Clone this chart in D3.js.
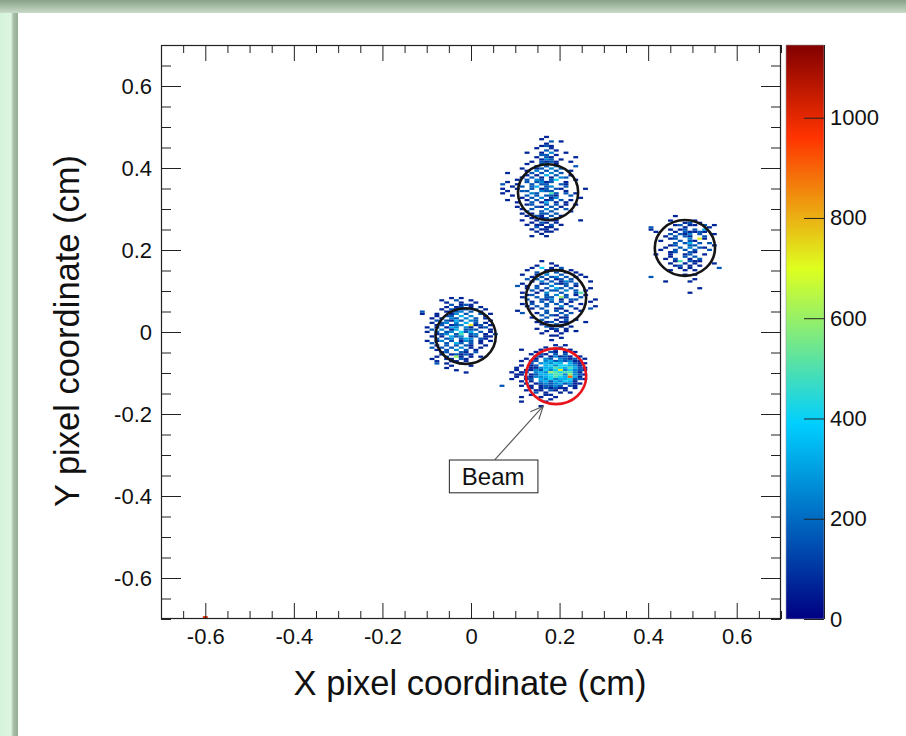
<!DOCTYPE html>
<html>
<head>
<meta charset="utf-8">
<script src="https://cdn.jsdelivr.net/npm/d3@7"></script>
<style>
  html, body { margin: 0; padding: 0; background: #fff; }
  svg { display: block; }
  text { font-family: "Liberation Sans", Arial, Helvetica, sans-serif; fill: #111; }
</style>
</head>
<body>
<svg id="chart" width="906" height="736"></svg>
<script>
// ---- axis values -------------------------------------------------------
const xDomain = [-0.7, 0.7];
const yDomain = [-0.7, 0.7];
const xTicks = [-0.6, -0.4, -0.2, 0, 0.2, 0.4, 0.6];
const yTicks = [-0.6, -0.4, -0.2, 0, 0.2, 0.4, 0.6];
const zTicks = [0, 200, 400, 600, 800, 1000];
const zMax = 1145;

// colour palette: stop fractions and colours
const paletteStops = [0.00, 0.34, 0.61, 0.84, 1.00];
const paletteColors = ["#000082", "#00cfff", "#deff1f", "#ff3300", "#820000"];

// histogram bin size (cm) and hit counts per symbol used in the spot maps
const binW = 0.011;
const binH = 0.0055;
const levelCounts = { "1": 70, "2": 160, "3": 250, "4": 330, "5": 410, "6": 500, "7": 600, "8": 720, "9": 900, "a": 1000 };

// spot maps: rows run from high y to low y, columns from low x to high x
const topSpot = [
  ".........1",
  "........1",
  "..........2.1",
  ".........1",
  "........121",
  ".......1..1",
  ".........2.1",
  ".....1..1.3..1",
  "........22.1",
  ".......1.21....1",
  "........132.1",
  "......1.2121..1",
  ".....1..24.1",
  ".......2.2.3...2",
  "....1..12.3.2",
  ".....1.3.2.2..1",
  ".1....2.2.3.2",
  ".....1.1.4.2..1",
  "....1.2.1.1.32",
  "...1.2.32.25...1",
  ".1...2.2312..1",
  "2..1..2.22..21",
  "..1.2.24.23..2",
  "1..1..2.12.21....1",
  ".1..22..322..1",
  "1.....32..62.2.1",
  "..1..2.2.221..2",
  "....1.2.3.13....1",
  ".1...1.2.12.2.1",
  "...1..2.14.1.1",
  ".....12..2.2.1.1",
  "...1...21.2.1",
  "....1.2..3.2.2",
  ".....2..2.2...1",
  "....1.1.22.2",
  ".....1.21.2.1",
  "......1.12.2",
  "....1..1..11....1",
  "......1.21.1",
  ".....1.11.2.1",
  ".......2.11",
  "......1.11.1",
  ".......1.11",
  "........1",
  "......1..1"
];
const rightSpot = [
  ".....1",
  "",
  "....1....1",
  ".......12.1",
  ".....12.11.2.1",
  "2......1....1",
  "1...1.12.2.4",
  ".1...1.21121",
  "....2.213.2..1",
  "...1.2.21..2",
  "....12..3.81",
  "..1...2.21",
  ".....2.24.2.2",
  "....12..22...1",
  "...1..2.3.21",
  "..1..2.2.2..2",
  "....12..21",
  ".1..1..12..1",
  "....1..2.2",
  "...1.2..1.2",
  ".....16.211",
  "....1..1.1...1",
  ".....12.1.1",
  "......1.1.....2",
  "....1..1.1",
  "",
  ".......1.1",
  "2",
  ".........1",
  "...1....1",
  "",
  "",
  "..........1",
  "",
  "........1"
];
const middleSpot = [
  ".....1",
  ".......1",
  "....1...1",
  "...1.5.1.2",
  "..1...1211.1",
  "....2.2.2.1.1",
  ".1..1.3..2...1",
  "...1.2.23.2.1.1",
  "..2.2.1.12.2",
  "...1.3.2.132...1",
  ".1...12.212.2",
  "2.1.2..3..2.1",
  "..1.2.2.42.2...1",
  "...2.1.22.3.2.1",
  ".1..1.3..2..26",
  "..12..2.3.2.1.1",
  ".1..2.22.72..2",
  "..2..213.1.22...1",
  "...1.2.2.2.1...1",
  ".1.2..2.2.1..1",
  "..1.2.2..3.2....1",
  "...1.2..11..1..2",
  "1.....2.2.1..1",
  ".2..1.2..2.2",
  ".....2.21.2",
  "...1..2..11",
  ".....2..1.2.1",
  "....1.12.11...1",
  ".....1..2.2",
  "......21.1.1",
  "....1..12.1",
  "......1.1.1.1",
  ".....1...1",
  ".......11",
  ".........1",
  ".......1"
];
const leftSpot = [
  "......1.1",
  "....1..2..1",
  ".....1..1..1",
  "......2.121",
  ".....1.12.1.1",
  "....1.2112.2.1",
  "2....1123.2.1",
  "1..1..13.2..2.1",
  "...1.22.4.3..1",
  "..1.1.32.3.2.1",
  "...2.2142.32..1",
  "..1.23.3.4.2.1",
  "...12.123.812.1",
  ".1.1.143.31.12",
  "..2.3.14.222..1",
  ".1.2.23.524.2.1",
  "...123.26.23.1.2",
  "..1.1.423.12.11",
  "...2.23.243.21",
  ".1.13.2.132.1.1",
  "..2..2.42.2.1",
  "...1.2.2.21..1",
  "..2.2.2.3.1.1",
  "...1.2.3.2.1",
  "....12..21.2",
  "....1.12121",
  "...1.2.71.1.1",
  "..1..11.21",
  "...1..11.1",
  "...2.1..1",
  "......1...1",
  ".....1",
  ".......1",
  ".........1"
];
const beamSpot = [
  "...........1.1",
  ".........1..2",
  "....1...1..1..1",
  ".......1..21.1.1",
  "......1.21.2.2",
  ".......21.13121.1",
  ".....1.1.32.3212.1",
  "....1.12.34232311",
  "......2.34354.4211",
  "....1.12.45355431",
  "...1..113446546421",
  "...1.1132535835321",
  "..1.12.3437656631",
  "...11.124456637321",
  "...1.213345654941",
  "..1..12.4353445221",
  "....1.1.34243541",
  ".....1.1232342311",
  "2...1.1.12232.21",
  "......1.121211.1",
  ".....1.11.21.1",
  ".......2.1..1.1",
  "......1..11",
  "....1...1..1",
  "..........1",
  "....1....1",
  "",
  "........1"
];
// isolated hot bin at the lower edge
const edgeSpot = ["a"];

// left edge x and upper edge y of each map (cm)
const spotOrigins = [
  { rows: topSpot,    x0: 0.0660,  yTop: 0.4785 },
  { rows: rightSpot,  x0: 0.4010,  yTop: 0.2855 },
  { rows: middleSpot, x0: 0.0995,  yTop: 0.1755 },
  { rows: leftSpot,   x0: -0.1155, yTop: 0.0855 },
  { rows: beamSpot,   x0: 0.0645,  yTop: -0.0295 },
  { rows: edgeSpot,   x0: -0.6055, yTop: -0.6930 }
];

// fitted rings (cm)
const ringCenters = [
  { x: 0.174, y: 0.341, beam: false },
  { x: 0.483, y: 0.205, beam: false },
  { x: 0.192, y: 0.083, beam: false },
  { x: -0.012, y: -0.010, beam: false },
  { x: 0.192, y: -0.108, beam: true }
];
const ringRadius = 0.068;

// annotation (cm)
const beamLabel = { text: "Beam", x0: -0.050, x1: 0.150, y0: -0.311, y1: -0.391 };
const beamArrow = { from: [0.054, -0.311], to: [0.163, -0.181] };

// ---- layout ------------------------------------------------------------
const W = 906, H = 736;
const frame = { left: 161, right: 781, top: 45, bottom: 619 };
const pal = { left: 786, right: 824 };

const svg = d3.select("#chart");

// page backdrop with the green edge
const defs = svg.append("defs");
const gTop = defs.append("linearGradient").attr("id", "edgeTop").attr("x1", 0).attr("y1", 0).attr("x2", 0).attr("y2", 1);
gTop.append("stop").attr("offset", 0).attr("stop-color", "#87a087");
gTop.append("stop").attr("offset", 1).attr("stop-color", "#c9dbc9");
const gLeft = defs.append("linearGradient").attr("id", "edgeLeft").attr("x1", 0).attr("y1", 0).attr("x2", 1).attr("y2", 0);
gLeft.append("stop").attr("offset", 0).attr("stop-color", "#d4f3da");
gLeft.append("stop").attr("offset", 0.6).attr("stop-color", "#ddf5e1");
gLeft.append("stop").attr("offset", 0.75).attr("stop-color", "#a9bfa9");
gLeft.append("stop").attr("offset", 1).attr("stop-color", "#93aa93");

svg.append("rect").attr("width", W).attr("height", H).attr("fill", "#fff");
svg.append("rect").attr("x", 0).attr("y", 0).attr("width", 18).attr("height", H).attr("fill", "url(#edgeLeft)");
svg.append("rect").attr("x", 0).attr("y", 0).attr("width", W).attr("height", 13).attr("fill", "url(#edgeTop)");

// ---- scales ------------------------------------------------------------
const x = d3.scaleLinear().domain(xDomain).range([frame.left, frame.right]);
const y = d3.scaleLinear().domain(yDomain).range([frame.bottom, frame.top]);
const z = d3.scaleLinear()
  .domain(paletteStops.map(s => s * zMax))
  .range(paletteColors)
  .interpolate(d3.interpolateRgb)
  .clamp(true);
const zAxisScale = d3.scaleLinear().domain([0, zMax]).range([frame.bottom, frame.top]);

// ---- histogram cells ---------------------------------------------------
const cells = [];
spotOrigins.forEach(s => {
  s.rows.forEach((row, r) => {
    [...row].forEach((ch, c) => {
      if (!(ch in levelCounts)) return;
      cells.push({ x: s.x0 + c * binW, y: s.yTop - (r + 1) * binH, v: levelCounts[ch] });
    });
  });
});

svg.append("g").attr("class", "cells")
  .selectAll("rect").data(cells).join("rect")
  .attr("x", d => x(d.x))
  .attr("y", d => y(d.y + binH))
  .attr("width", d => x(d.x + binW) - x(d.x))
  .attr("height", d => y(d.y) - y(d.y + binH))
  .attr("fill", d => z(d.v));

// ---- rings -------------------------------------------------------------
svg.append("g").attr("class", "rings")
  .selectAll("ellipse").data(ringCenters).join("ellipse")
  .attr("cx", d => x(d.x))
  .attr("cy", d => y(d.y))
  .attr("rx", x(ringRadius) - x(0))
  .attr("ry", y(0) - y(ringRadius))
  .attr("fill", "none")
  .attr("stroke", d => d.beam ? "#e8141c" : "#151515")
  .attr("stroke-width", 2.6);

// ---- axes --------------------------------------------------------------
const minorVals = d3.range(-14, 15).map(i => +(i * 0.05).toFixed(2)).filter(v => Math.abs(Math.round(v * 100)) % 20 !== 0 || Math.abs(v) > 0.61);
const fmt = v => v === 0 ? "0" : v.toFixed(1);
const xMaj = 16, xMin = 8, yMaj = 20, yMin = 10;

function styleAxis(g) {
  g.select(".domain").remove();
  g.selectAll("line").attr("stroke", "#222");
  g.selectAll("text").attr("font-size", 22).attr("fill", "#111")
    .attr("font-family", '"Liberation Sans", Arial, Helvetica, sans-serif');
}

// bottom
svg.append("g").attr("transform", `translate(0,${frame.bottom})`)
  .call(d3.axisBottom(x).tickValues(minorVals).tickSize(-xMin).tickFormat(""))
  .call(styleAxis);
svg.append("g").attr("transform", `translate(0,${frame.bottom})`)
  .call(d3.axisBottom(x).tickValues(xTicks).tickSize(-xMaj).tickPadding(9).tickFormat(fmt))
  .call(styleAxis);
// top
svg.append("g").attr("transform", `translate(0,${frame.top})`)
  .call(d3.axisTop(x).tickValues(minorVals).tickSize(-xMin).tickFormat(""))
  .call(styleAxis);
svg.append("g").attr("transform", `translate(0,${frame.top})`)
  .call(d3.axisTop(x).tickValues(xTicks).tickSize(-xMaj).tickFormat(""))
  .call(styleAxis);
// left
svg.append("g").attr("transform", `translate(${frame.left},0)`)
  .call(d3.axisLeft(y).tickValues(minorVals).tickSize(-yMin).tickFormat(""))
  .call(styleAxis);
svg.append("g").attr("transform", `translate(${frame.left},0)`)
  .call(d3.axisLeft(y).tickValues(yTicks).tickSize(-yMaj).tickPadding(9).tickFormat(fmt))
  .call(styleAxis);
// right
svg.append("g").attr("transform", `translate(${frame.right},0)`)
  .call(d3.axisRight(y).tickValues(minorVals).tickSize(-yMin).tickFormat(""))
  .call(styleAxis);
svg.append("g").attr("transform", `translate(${frame.right},0)`)
  .call(d3.axisRight(y).tickValues(yTicks).tickSize(-yMaj).tickFormat(""))
  .call(styleAxis);

// frame
svg.append("rect")
  .attr("x", frame.left + 0.5).attr("y", frame.top + 0.5)
  .attr("width", frame.right - frame.left - 1).attr("height", frame.bottom - frame.top - 1)
  .attr("fill", "none").attr("stroke", "#222").attr("stroke-width", 1.2);

// ---- palette -----------------------------------------------------------
const pg = defs.append("linearGradient").attr("id", "palette")
  .attr("x1", 0).attr("y1", 1).attr("x2", 0).attr("y2", 0);
paletteStops.forEach((s, i) => pg.append("stop").attr("offset", s).attr("stop-color", paletteColors[i]));
svg.append("rect")
  .attr("x", pal.left).attr("y", frame.top)
  .attr("width", pal.right - pal.left).attr("height", frame.bottom - frame.top)
  .attr("fill", "url(#palette)")
  .attr("stroke", "#9a9aa8").attr("stroke-width", 0.6);
svg.append("g").attr("transform", `translate(${pal.right},0)`)
  .call(d3.axisRight(zAxisScale).tickValues(zTicks).tickSize(-20).tickPadding(6).tickFormat(d3.format("d")))
  .call(g => {
    g.select(".domain").attr("stroke", "#222").attr("d", `M0.5,${frame.top}V${frame.bottom}`);
    g.selectAll("line").attr("stroke", "#222");
    g.selectAll("text").attr("font-size", 22).attr("fill", "#111");
  });

// ---- annotation --------------------------------------------------------
const ax0 = x(beamArrow.from[0]), ay0 = y(beamArrow.from[1]);
const ax1 = x(beamArrow.to[0]), ay1 = y(beamArrow.to[1]);
const ang = Math.atan2(ay1 - ay0, ax1 - ax0);
const headLen = 14, headAng = 0.42;
const ann = svg.append("g").attr("class", "annotation");
ann.append("line")
  .attr("x1", ax0).attr("y1", ay0).attr("x2", ax1).attr("y2", ay1)
  .attr("stroke", "#555").attr("stroke-width", 1.1);
ann.append("path")
  .attr("d", `M${ax1 - headLen * Math.cos(ang - headAng)},${ay1 - headLen * Math.sin(ang - headAng)}L${ax1},${ay1}L${ax1 - headLen * Math.cos(ang + headAng)},${ay1 - headLen * Math.sin(ang + headAng)}`)
  .attr("fill", "none").attr("stroke", "#555").attr("stroke-width", 1.1);
ann.append("rect")
  .attr("x", x(beamLabel.x0) + 0.5).attr("y", y(beamLabel.y0) + 0.5)
  .attr("width", x(beamLabel.x1) - x(beamLabel.x0)).attr("height", y(beamLabel.y1) - y(beamLabel.y0))
  .attr("fill", "#fff").attr("stroke", "#222").attr("stroke-width", 1);
ann.append("text")
  .attr("x", (x(beamLabel.x0) + x(beamLabel.x1)) / 2)
  .attr("y", y(beamLabel.y1) - 7)
  .attr("text-anchor", "middle").attr("font-size", 24)
  .text(beamLabel.text);

// ---- axis titles -------------------------------------------------------
svg.append("text")
  .attr("x", (frame.left + frame.right) / 2 - 1).attr("y", 695)
  .attr("text-anchor", "middle").attr("font-size", 34.5)
  .text("X pixel coordinate (cm)");
svg.append("text")
  .attr("transform", `translate(79,${(frame.top + frame.bottom) / 2 - 1}) rotate(-90)`)
  .attr("text-anchor", "middle").attr("font-size", 34.5)
  .text("Y pixel coordinate (cm)");
</script>
</body>
</html>
